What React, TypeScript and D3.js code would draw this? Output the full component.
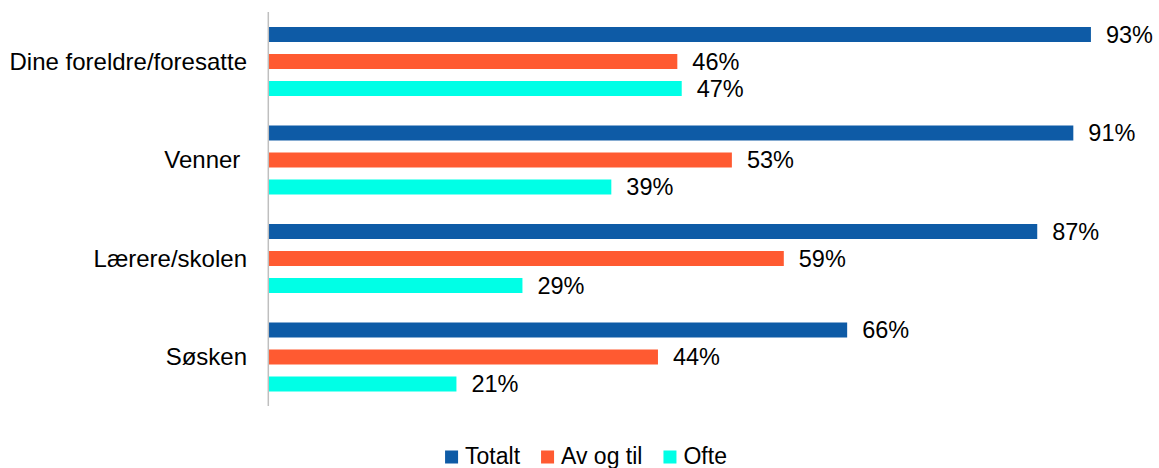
import React, { useEffect, useRef } from 'react';
import * as d3 from 'd3';

const categories = ['Dine foreldre/foresatte', 'Venner ', 'Lærere/skolen', 'Søsken'];
const seriesNames = ['Totalt', 'Av og til', 'Ofte'];
// bar lengths (labels show them rounded)
const totalt = [93.4, 91.4, 87.3, 65.7];
const avOgTil = [46.4, 52.6, 58.5, 44.2];
const ofte = [46.9, 38.9, 28.8, 21.3];
const colors = ['#0E5BA6', '#FF5A31', '#00FFE6'];

const width = 1159;
const height = 468;
const FONT = 'Arial, "Liberation Sans", sans-serif';

export default function App() {
  const ref = useRef<SVGSVGElement>(null);

  useEffect(() => {
    const svg = d3.select(ref.current);
    svg.selectAll('*').remove();

    const values = [totalt, avOgTil, ofte];

    const x = d3.scaleLinear().domain([0, 100]).range([269, 1149]);
    const y = d3.scaleBand<string>().domain(categories).range([12, 406]);
    const inner = d3
      .scaleBand<string>()
      .domain(seriesNames)
      .range([9, 90])
      .paddingInner(12 / 27)
      .paddingOuter(6 / 27);

    // bars + value labels
    seriesNames.forEach((name, si) => {
      const g = svg.append('g');
      g.selectAll('rect')
        .data(values[si])
        .enter()
        .append('rect')
        .attr('x', x(0))
        .attr('y', (d, i) => y(categories[i])! + inner(name)!)
        .attr('width', (d) => x(d) - x(0))
        .attr('height', inner.bandwidth())
        .attr('fill', colors[si]);

      g.selectAll('text')
        .data(values[si])
        .enter()
        .append('text')
        .attr('x', (d) => x(d) + 15)
        .attr('y', (d, i) => y(categories[i])! + inner(name)! + inner.bandwidth() / 2)
        .attr('dy', '0.36em')
        .attr('font-family', FONT)
        .attr('font-size', 23.5)
        .attr('fill', '#000')
        .text((d) => `${Math.round(d)}%`);
    });

    // axis line
    svg
      .append('line')
      .attr('x1', 268.3)
      .attr('x2', 268.3)
      .attr('y1', y.range()[0])
      .attr('y2', y.range()[1])
      .attr('stroke', '#BFBFBF')
      .attr('stroke-width', 1.5);

    // category labels
    svg
      .append('g')
      .selectAll('text')
      .data(categories)
      .enter()
      .append('text')
      .attr('x', 247)
      .attr('y', (d) => y(d)! + y.bandwidth() / 2)
      .attr('dy', '0.36em')
      .attr('text-anchor', 'end')
      .attr('font-family', FONT)
      .attr('font-size', 24)
      .style('white-space', 'pre')
      .attr('fill', '#000')
      .text((d) => d);

    // legend
    const legend = svg.append('g');
    let cx = 0;
    seriesNames.forEach((name, i) => {
      const item = legend.append('g').attr('transform', `translate(${cx},0)`);
      item
        .append('rect')
        .attr('x', 0)
        .attr('y', -13.5)
        .attr('width', 13)
        .attr('height', 13)
        .attr('fill', colors[i]);
      const t = item
        .append('text')
        .attr('x', 20)
        .attr('y', 0)
        .attr('font-family', FONT)
        .attr('font-size', 23)
        .attr('fill', '#000')
        .text(name);
      const w = (t.node() as SVGTextElement).getComputedTextLength();
      cx += 20 + w + 21;
    });
    const total = cx - 21;
    legend.attr('transform', `translate(${586 - total / 2},${464})`);
  }, []);

  return (
    <svg
      ref={ref}
      width={width}
      height={height}
      style={{ position: 'absolute', left: 0, top: 0, background: '#fff' }}
    />
  );
}
